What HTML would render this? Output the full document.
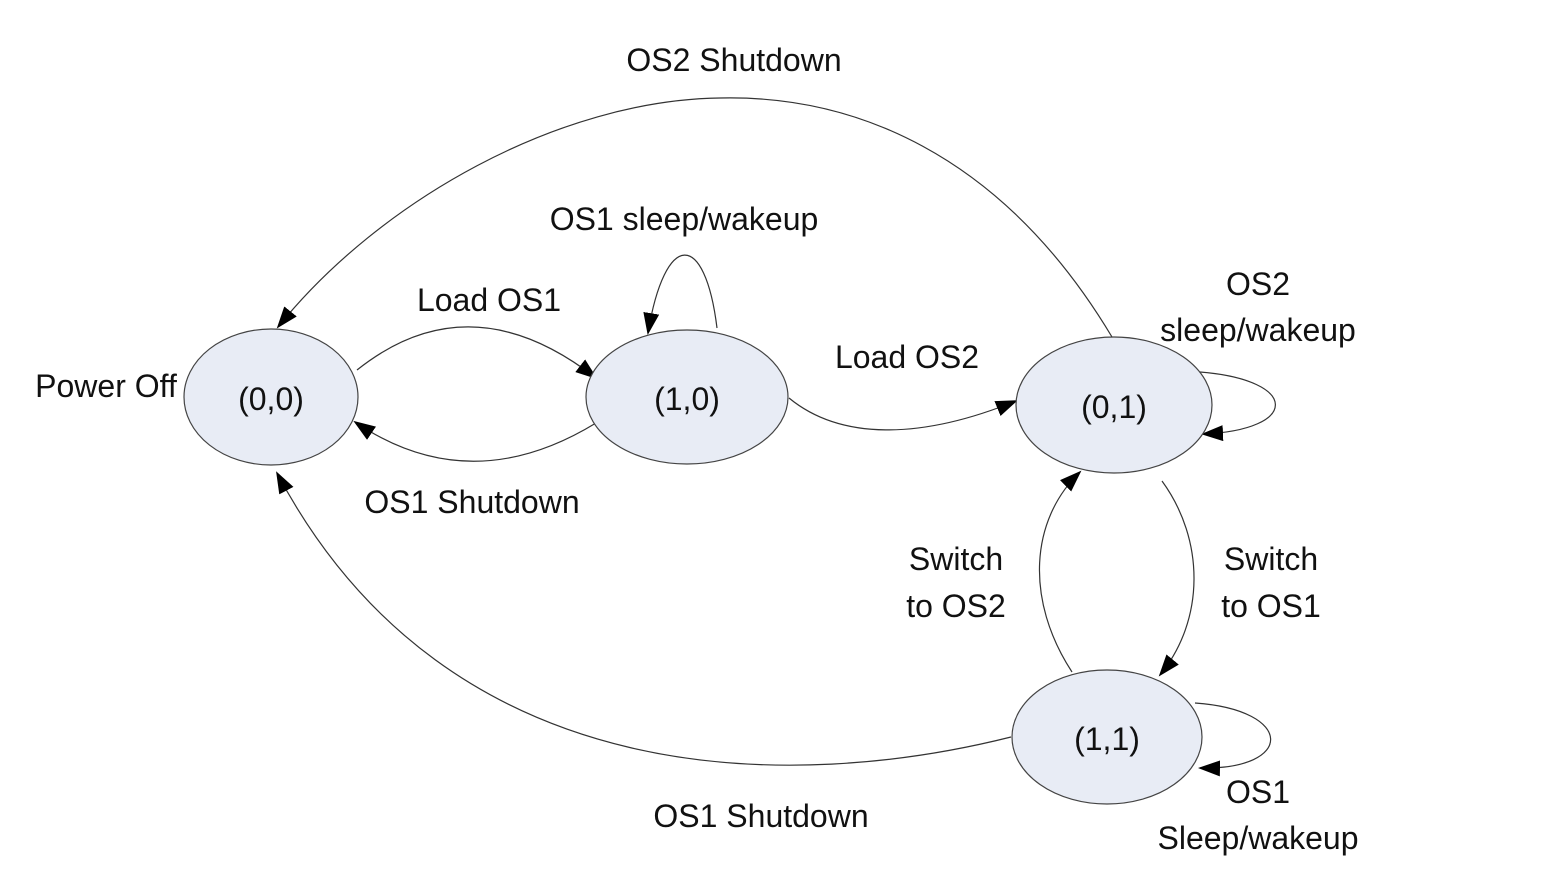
<!DOCTYPE html>
<html><head><meta charset="utf-8"><style>
html,body{margin:0;padding:0;background:#fff;}
svg{display:block;}
text{font-family:"Liberation Sans",Arial,sans-serif;font-size:32px;fill:#111;}
</style></head><body>
<svg width="1556" height="894" viewBox="0 0 1556 894">
<defs><marker id="a" markerWidth="22" markerHeight="16" refX="20" refY="8" orient="auto" markerUnits="userSpaceOnUse"><path d="M0,0 L22,8 L0,16 z" fill="#000"/></marker></defs>
<g fill="none" stroke="#333" stroke-width="1.2" marker-end="url(#a)">
<path d="M1112,337 C1000,150 850,95 720,98 C560,100 380,200 278,327"/>
<path d="M357,370 Q470,280 596,378"/>
<path d="M596,423 Q470,500 355,422"/>
<path d="M717,328 C705,230 665,230 648,333"/>
<path d="M789,398 C840,440 920,440 1016,401"/>
<path d="M1200,372 C1300,380 1300,430 1203,434"/>
<path d="M1162,481 C1205,540 1205,620 1160,675"/>
<path d="M1072,672 C1025,600 1030,520 1080,472"/>
<path d="M1011,737 C800,790 450,800 277,473"/>
<path d="M1195,703 C1295,710 1295,770 1200,768"/>
</g>
<g fill="#e8ecf5" stroke="#444" stroke-width="1.2">
<ellipse cx="271" cy="397" rx="87" ry="68"/>
<ellipse cx="687" cy="397" rx="101" ry="67"/>
<ellipse cx="1114" cy="405" rx="98" ry="68"/>
<ellipse cx="1107" cy="737" rx="95" ry="67"/>
</g>
<g text-anchor="middle">
<text x="271" y="410">(0,0)</text>
<text x="687" y="410">(1,0)</text>
<text x="1114" y="418">(0,1)</text>
<text x="1107" y="750">(1,1)</text>
<text x="734" y="71">OS2 Shutdown</text>
<text x="684" y="230">OS1 sleep/wakeup</text>
<text x="489" y="311">Load OS1</text>
<text x="907" y="368">Load OS2</text>
<text x="106" y="397">Power Off</text>
<text x="472" y="513">OS1 Shutdown</text>
<text x="1258" y="295">OS2</text>
<text x="1258" y="341">sleep/wakeup</text>
<text x="956" y="570">Switch</text>
<text x="956" y="617">to OS2</text>
<text x="1271" y="570">Switch</text>
<text x="1271" y="617">to OS1</text>
<text x="761" y="827">OS1 Shutdown</text>
<text x="1258" y="803">OS1</text>
<text x="1258" y="849">Sleep/wakeup</text>
</g>
</svg>
</body></html>
